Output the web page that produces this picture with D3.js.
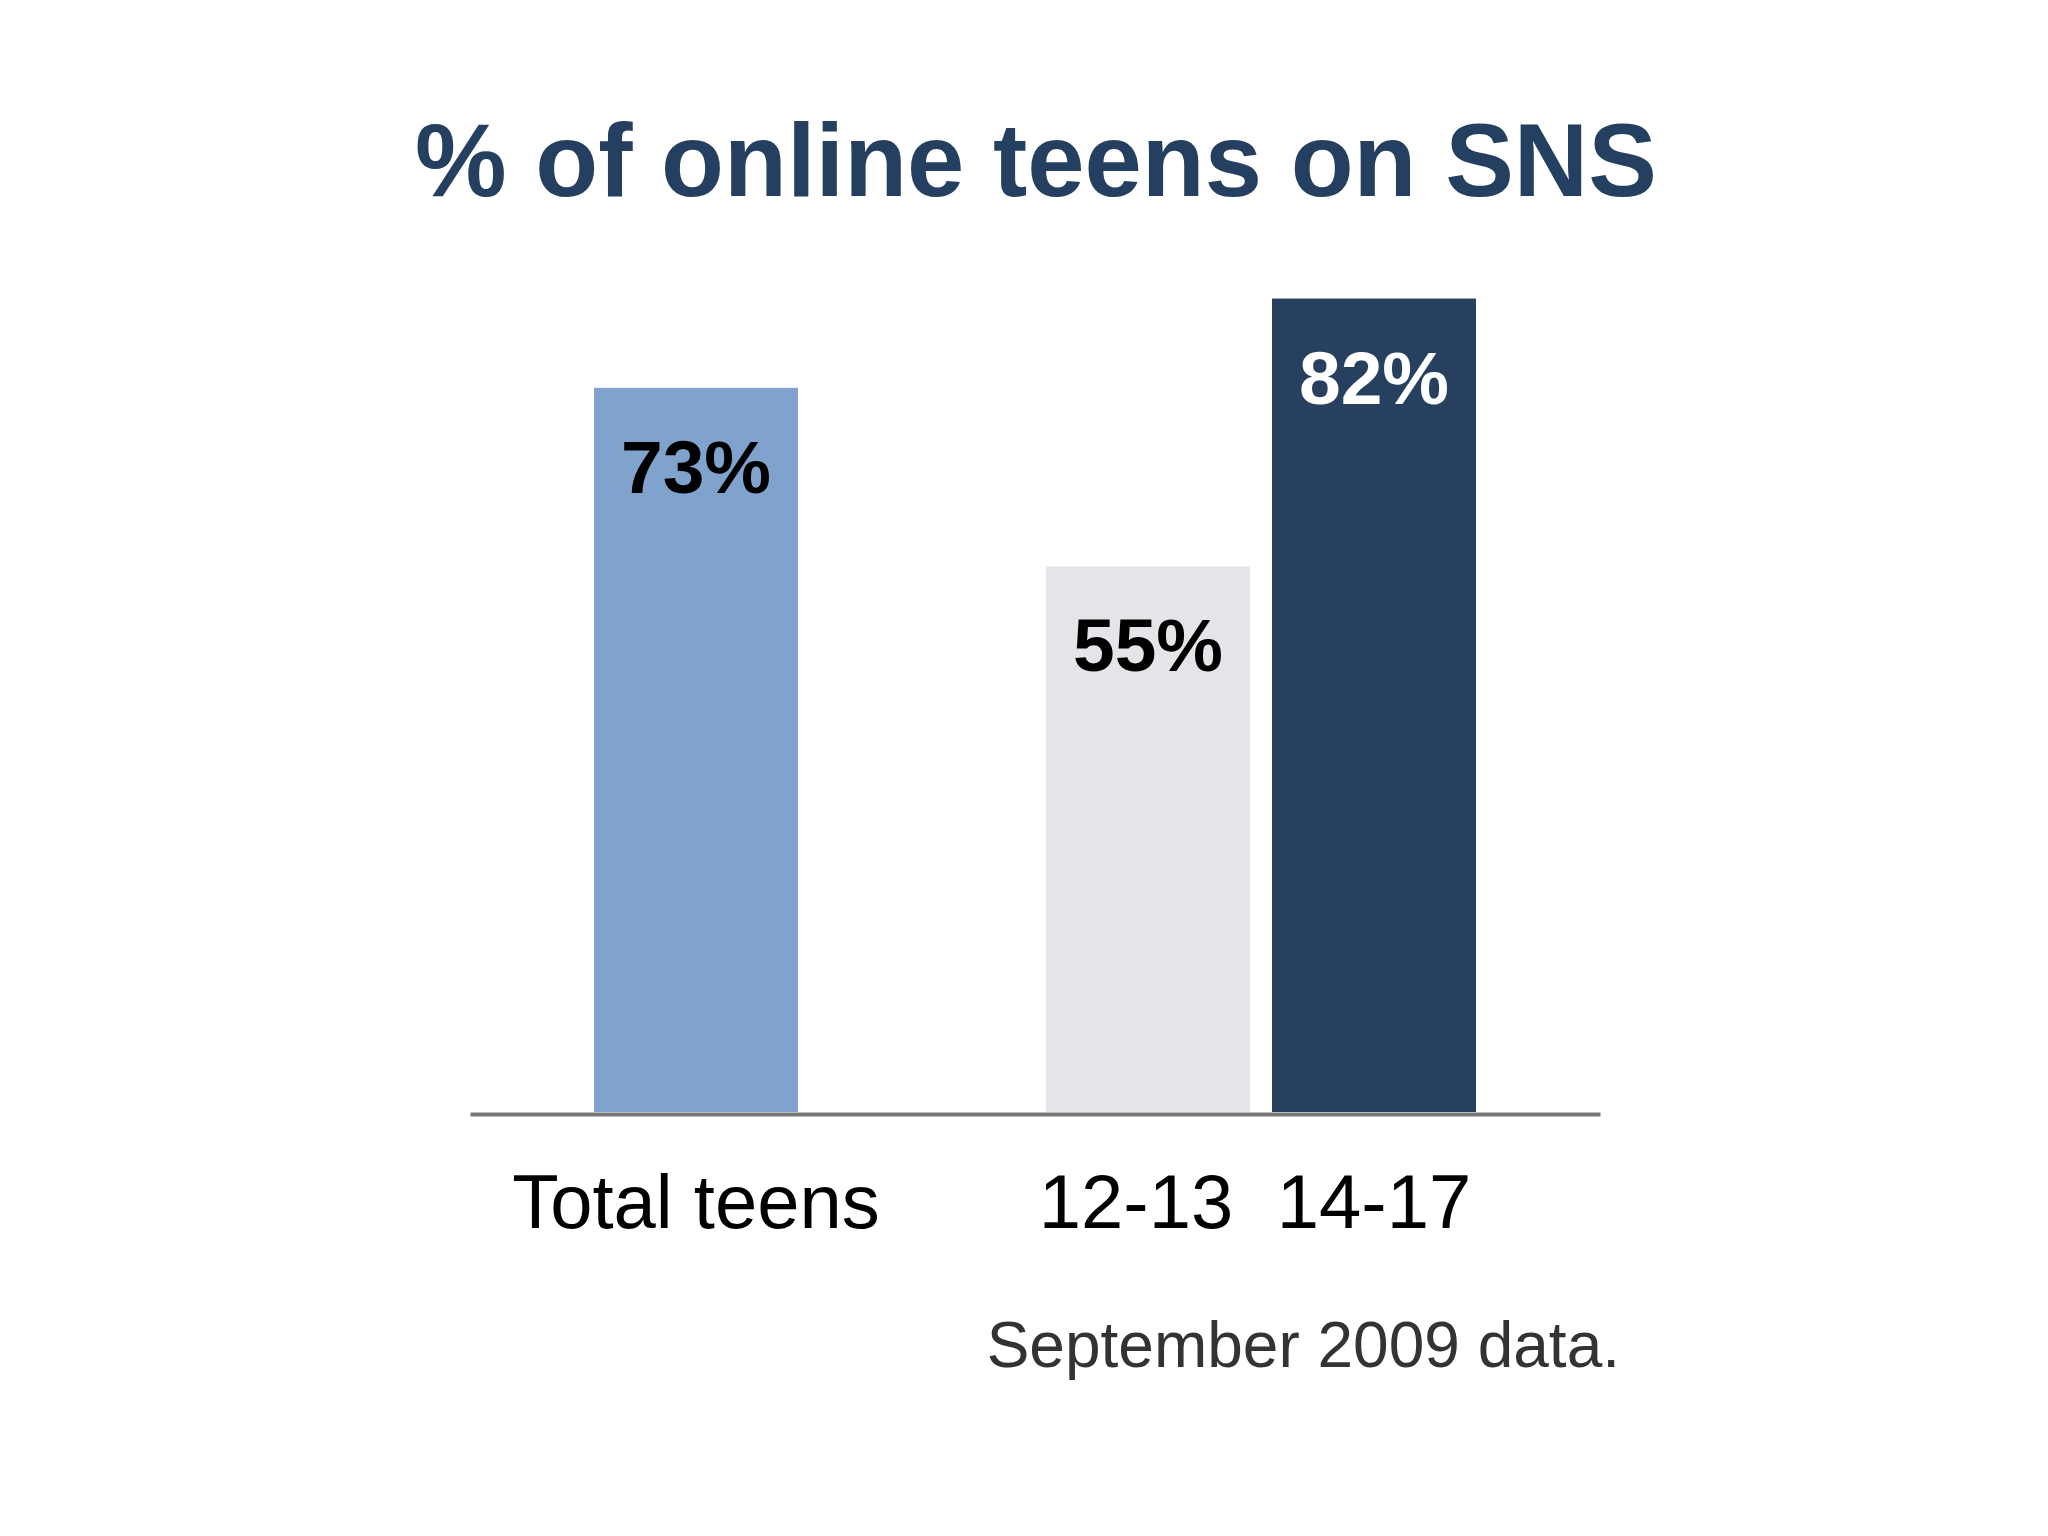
<!DOCTYPE html>
<html lang="en">
<head>
<meta charset="UTF-8">
<title>% of online teens on SNS</title>
<script src="https://cdn.jsdelivr.net/npm/d3@7"></script>
<style>
  body { margin: 0; background: #fff; }
  text { font-family: "Liberation Sans", Arial, Helvetica, sans-serif; }
</style>
</head>
<body>
<svg width="2048" height="1536"></svg>
<script>
// data
var categories = ["Total teens", "12-13", "14-17"];
var values = [73, 55, 82];
var valueLabels = ["73%", "55%", "82%"];
var barColors = ["#7fa3cc", "#e6e4e8", "#27405f"];
var labelColors = ["#000", "#000", "#fff"];
var slots = ["Total teens", "gap", "12-13", "14-17"];

var svg = d3.select("svg");

var x = d3.scaleBand()
    .domain(slots)
    .range([594, 1476])
    .paddingInner(22 / 226)
    .paddingOuter(0);

var y = d3.scaleLinear()
    .domain([0, 100])
    .range([1112, 120]);

// title
svg.append("text")
    .attr("x", 1036)
    .attr("y", 196)
    .attr("text-anchor", "middle")
    .attr("font-size", 103)
    .attr("font-weight", "bold")
    .attr("fill", "#243f60")
    .text("% of online teens on SNS");

// bars
svg.append("g").selectAll("rect")
    .data(categories)
    .enter().append("rect")
    .attr("x", function(d) { return x(d); })
    .attr("width", x.bandwidth())
    .attr("y", function(d, i) { return y(values[i]); })
    .attr("height", function(d, i) { return y(0) - y(values[i]); })
    .attr("fill", function(d, i) { return barColors[i]; });

// value labels inside bars
svg.append("g").selectAll("text")
    .data(categories)
    .enter().append("text")
    .attr("x", function(d) { return x(d) + x.bandwidth() / 2; })
    .attr("y", function(d, i) { return y(values[i]) + 105; })
    .attr("text-anchor", "middle")
    .attr("font-size", 75)
    .attr("font-weight", "bold")
    .attr("fill", function(d, i) { return labelColors[i]; })
    .text(function(d, i) { return valueLabels[i]; });

// baseline
var axis = d3.axisBottom(d3.scaleLinear().range([470, 1600])).ticks(0).tickSize(0);
var axisG = svg.append("g")
    .attr("transform", "translate(0," + (y(0) + 2) + ")")
    .call(axis);
axisG.select(".domain").attr("stroke", "#7a7a7a").attr("stroke-width", 4);
axisG.selectAll(".tick").remove();

// category labels
svg.append("g").selectAll("text")
    .data(categories)
    .enter().append("text")
    .attr("x", function(d) { return x(d) + x.bandwidth() / 2; })
    .attr("dx", function(d) { return d === "12-13" ? -12 : 0; })
    .attr("y", 1228)
    .attr("text-anchor", "middle")
    .attr("font-size", 76)
    .attr("fill", "#000")
    .text(function(d) { return d; });

// note
svg.append("text")
    .attr("x", 1620)
    .attr("y", 1367)
    .attr("text-anchor", "end")
    .attr("font-size", 64)
    .attr("fill", "#333")
    .text("September 2009 data.");
</script>
</body>
</html>
